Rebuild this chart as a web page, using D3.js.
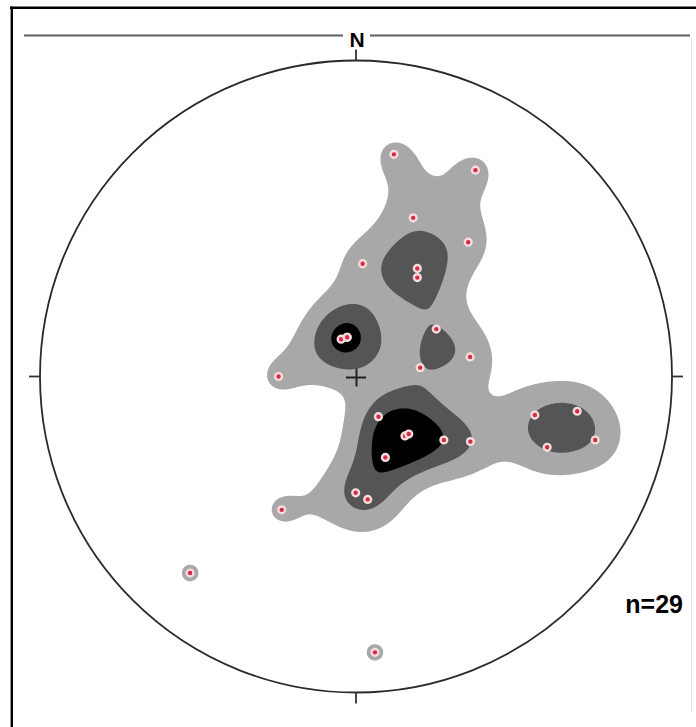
<!DOCTYPE html>
<html>
<head>
<meta charset="utf-8">
<script src="https://cdn.jsdelivr.net/npm/d3@7"></script>
<style>
  html, body { margin: 0; padding: 0; background: #fff; }
  svg { display: block; }
</style>
</head>
<body>
<svg width="696" height="727"></svg>
<script>
// poles, read off the net: east and north, net radius = 1
// (one of the pairs near the centre is really a triple, so 29 in all)
var poleE = [0.120, 0.378, 0.181, 0.355, 0.021, 0.194, 0.194, 0.254,
             -0.047, -0.028, -0.028, 0.361, 0.203, -0.245, 0.071, 0.155,
             0.167, 0.278, 0.362, 0.093, 0.566, 0.700, 0.757, 0.605,
             -0.001, 0.037, -0.235, -0.525, 0.060];
var poleN = [0.703, 0.653, 0.502, 0.425, 0.357, 0.342, 0.313, 0.150,
             0.118, 0.124, 0.124, 0.062, 0.028, 0.000, -0.127, -0.188,
             -0.182, -0.201, -0.206, -0.256, -0.122, -0.110, -0.201, -0.224,
             -0.368, -0.389, -0.422, -0.622, -0.873];

// contour levels (in counts) and their fills
var levels = [0.96, 1.93, 2.78];
var levelColors = ['#a8a8a8', '#555555', '#000000'];

var northLabel = 'N';
var countLabel = 'n=' + poleE.length;

var cx = 356, cy = 376.5, R = 316;
var sigma = 29; // smoothing, px

var x = d3.scaleLinear().domain([-1, 1]).range([cx - R, cx + R]);
var y = d3.scaleLinear().domain([-1, 1]).range([cy + R, cy - R]);

var svg = d3.select('svg');

// frame
svg.append('line').attr('x1', 10).attr('x2', 696).attr('y1', 7.8).attr('y2', 7.8)
  .attr('stroke', '#000').attr('stroke-width', 2.4);
svg.append('line').attr('x1', 11.8).attr('x2', 11.8).attr('y1', 6.6).attr('y2', 727)
  .attr('stroke', '#000').attr('stroke-width', 2.4);
svg.append('line').attr('x1', 691.5).attr('x2', 691.5).attr('y1', 37).attr('y2', 712)
  .attr('stroke', '#e6e6e6').attr('stroke-width', 1);

// north rule
svg.append('line').attr('x1', 24).attr('x2', cx - 13).attr('y1', 35.5).attr('y2', 35.5)
  .attr('stroke', '#5e5e5e').attr('stroke-width', 1.8);
svg.append('line').attr('x1', cx + 14).attr('x2', 690).attr('y1', 35.5).attr('y2', 35.5)
  .attr('stroke', '#5e5e5e').attr('stroke-width', 1.8);

// density grid
var pts = poleE.map(function(e, i){ return [x(e), y(poleN[i])]; });
var cell = 2,
    x0 = cx - R - 10, y0 = cy - R - 10,
    nx = Math.ceil((2 * R + 20) / cell), ny = nx;
var values = new Float64Array(nx * ny);
var s2 = 2 * sigma * sigma;
for (var j = 0; j < ny; j++) {
  var py = y0 + (j + 0.5) * cell;
  for (var i = 0; i < nx; i++) {
    var px = x0 + (i + 0.5) * cell, v = 0;
    for (var k = 0; k < pts.length; k++) {
      var dx = px - pts[k][0], dy = py - pts[k][1];
      v += Math.exp(-(dx * dx + dy * dy) / s2);
    }
    values[i + j * nx] = v;
  }
}

var contours = d3.contours().size([nx, ny]).thresholds(levels)(values);
var path = d3.geoPath(d3.geoIdentity().scale(cell).translate([x0, y0]));

svg.append('clipPath').attr('id', 'net')
  .append('circle').attr('cx', cx).attr('cy', cy).attr('r', R);

svg.append('g').attr('clip-path', 'url(#net)')
  .selectAll('path')
  .data(contours)
  .enter()
  .append('path')
    .attr('d', path)
    .attr('fill', function(d, i){ return levelColors[i]; });

// centre cross
svg.append('path')
  .attr('d', 'M' + (cx - 10) + ',' + (cy + 1) + 'H' + (cx + 10) +
             'M' + (cx + 0.5) + ',' + (cy - 8) + 'V' + (cy + 10))
  .attr('stroke', '#222').attr('stroke-width', 2).attr('fill', 'none');

// poles
svg.append('g').selectAll('circle')
  .data(pts)
  .enter()
  .append('circle')
    .attr('cx', function(d){ return d[0]; })
    .attr('cy', function(d){ return d[1]; })
    .attr('r', 3.4)
    .attr('fill', '#d62a45')
    .attr('stroke', '#f7dcdc')
    .attr('stroke-width', 2.4);

// primitive circle and ticks
svg.append('circle').attr('cx', cx).attr('cy', cy).attr('r', R)
  .attr('fill', 'none').attr('stroke', '#2a2a2a').attr('stroke-width', 1.8);

var ticks = [[0, 1], [1, 0], [0, -1], [-1, 0]];
svg.append('g').selectAll('line')
  .data(ticks)
  .enter()
  .append('line')
    .attr('x1', function(d){ return x(d[0]); })
    .attr('y1', function(d){ return y(d[1]); })
    .attr('x2', function(d){ return x(d[0]) + d[0] * 11; })
    .attr('y2', function(d){ return y(d[1]) - d[1] * 11; })
    .attr('stroke', '#333').attr('stroke-width', 1.8);

// labels
svg.append('text')
  .attr('x', cx + 1).attr('y', 47)
  .attr('text-anchor', 'middle')
  .style('font', 'bold 21px "Liberation Sans", Arial, sans-serif')
  .text(northLabel);

svg.append('text')
  .attr('x', 683).attr('y', 613)
  .attr('text-anchor', 'end')
  .style('font', 'bold 25px "Liberation Sans", Arial, sans-serif')
  .text(countLabel);
</script>
</body>
</html>
